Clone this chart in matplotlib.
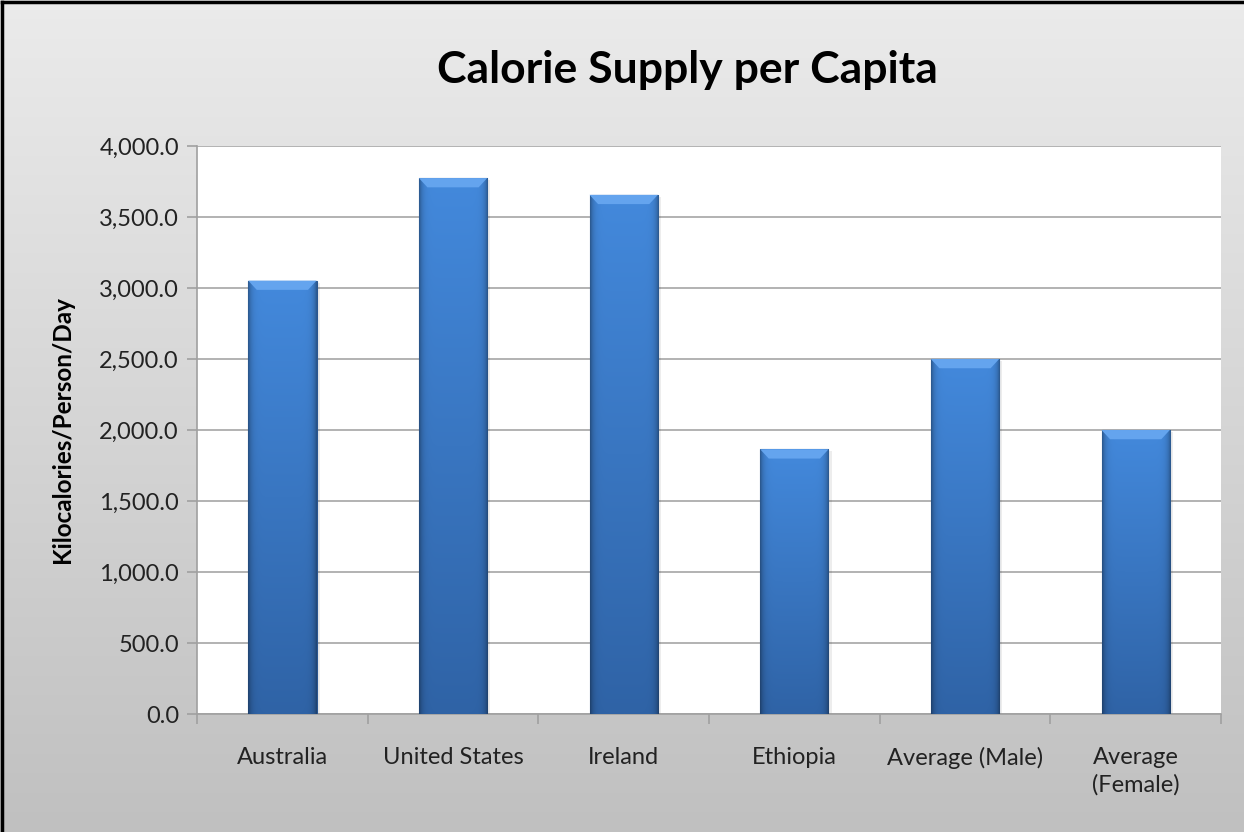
import numpy as np
import matplotlib
matplotlib.use("Agg")
import matplotlib.pyplot as plt
from matplotlib.patches import Polygon
from matplotlib.ticker import FuncFormatter
from matplotlib.colors import LinearSegmentedColormap, to_rgb

# === dados ===
categorias = ["Australia", "United States", "Ireland", "Ethiopia",
              "Average (Male)", "Average\n(Female)"]
valores = [3052, 3774, 3656, 1864, 2500, 2000]
y_ticks = [0, 500, 1000, 1500, 2000, 2500, 3000, 3500, 4000]

plt.rcParams['font.family'] = ['Lato', 'DejaVu Sans']

fig = plt.figure(figsize=(12.44, 8.32), dpi=100)

# fundo em degradê (cinza claro em cima, mais escuro embaixo)
bg = fig.add_axes([0, 0, 1, 1], zorder=-10)
grad = np.linspace(0, 1, 256).reshape(-1, 1)
cmap_bg = LinearSegmentedColormap.from_list("bg", ["#ebebeb", "#c0c0c0"])
bg.imshow(grad, aspect="auto", cmap=cmap_bg, extent=[0, 1, 0, 1], origin="upper")
bg.set_xlim(0, 1)
bg.set_ylim(0, 1)
bg.axis("off")
# borda preta (esquerda e topo)
fig.add_artist(plt.Line2D([0.002, 0.002], [0, 0.998], color="black", lw=2.5))
fig.add_artist(plt.Line2D([0.002, 1], [0.998, 0.998], color="black", lw=2.5))

ax = fig.add_axes([0.1584, 0.1418, 0.9815 - 0.1584, 0.8245 - 0.1418])
ax.set_facecolor("white")

x = np.arange(len(categorias))
largura = 0.4
barras = ax.bar(x, valores, width=largura, color="#3b78c4", zorder=3)

# textura da barra: degradê vertical (claro em cima) e bordas laterais escuras
topo_c = np.array(to_rgb("#4389dc"))
base_c = np.array(to_rgb("#2f63a6"))
v = np.linspace(0, 1, 200).reshape(-1, 1, 1)   # 0 = base, 1 = topo
h = np.linspace(-1, 1, 120).reshape(1, -1, 1)
cor = base_c + (topo_c - base_c) * v
borda = 1 - 0.35 * np.abs(h) ** 10
img = np.clip(cor * borda, 0, 1)

bevel_y = 65    # altura do chanfro em unidades de dados
bevel_x = 0.05  # recuo do chanfro
for b, val in zip(barras, valores):
    x0 = b.get_x()
    w = b.get_width()
    im = ax.imshow(img, aspect="auto", extent=[x0, x0 + w, 0, val],
                   origin="lower", zorder=3, interpolation="bilinear")
    im.set_clip_path(b)
    # sombra leve à direita
    ax.bar(x0 + w, val - 15, width=0.018, bottom=0, align="edge",
           color="#000000", alpha=0.07, zorder=2)
    # chanfro superior
    topo = Polygon([[x0, val], [x0 + w, val], [x0 + w - bevel_x, val - bevel_y],
                    [x0 + bevel_x, val - bevel_y]], closed=True,
                   facecolor="#64a4ee", edgecolor="none", zorder=4)
    ax.add_patch(topo)
    b.set_edgecolor("#2a5690")
    b.set_linewidth(0.8)

ax.set_xlim(-0.5, len(categorias) - 0.5)
ax.set_ylim(0, 4000)
ax.set_yticks(y_ticks)
ax.yaxis.set_major_formatter(FuncFormatter(lambda v, p: f"{v:,.1f}"))
ax.grid(axis="y", color="#a6a6a6", lw=1.2, zorder=0)
ax.set_axisbelow(True)

ax.set_xticks(x)
ax.set_xticklabels(categorias, fontsize=17, color="#222222", linespacing=1.35)
ax.set_xticks(np.arange(len(categorias) + 1) - 0.5, minor=True)
ax.tick_params(axis="x", which="major", length=0, pad=24)
ax.tick_params(axis="x", which="minor", length=7, color="#a0a0a0", width=1.2)
ax.tick_params(axis="y", length=7, color="#a0a0a0", width=1.2, labelsize=17,
               labelcolor="#222222", pad=6)

for s in ["top", "right"]:
    ax.spines[s].set_visible(False)
for s in ["left", "bottom"]:
    ax.spines[s].set_color("#a0a0a0")
    ax.spines[s].set_linewidth(1.2)

ax.set_ylabel("Kilocalories/Person/Day", fontsize=17.5, fontweight="bold", labelpad=18)
fig.text(0.5525, 0.916, "Calorie Supply per Capita", ha="center", va="center",
         fontsize=32, fontweight="bold")

fig.savefig("out.png", dpi=100)
